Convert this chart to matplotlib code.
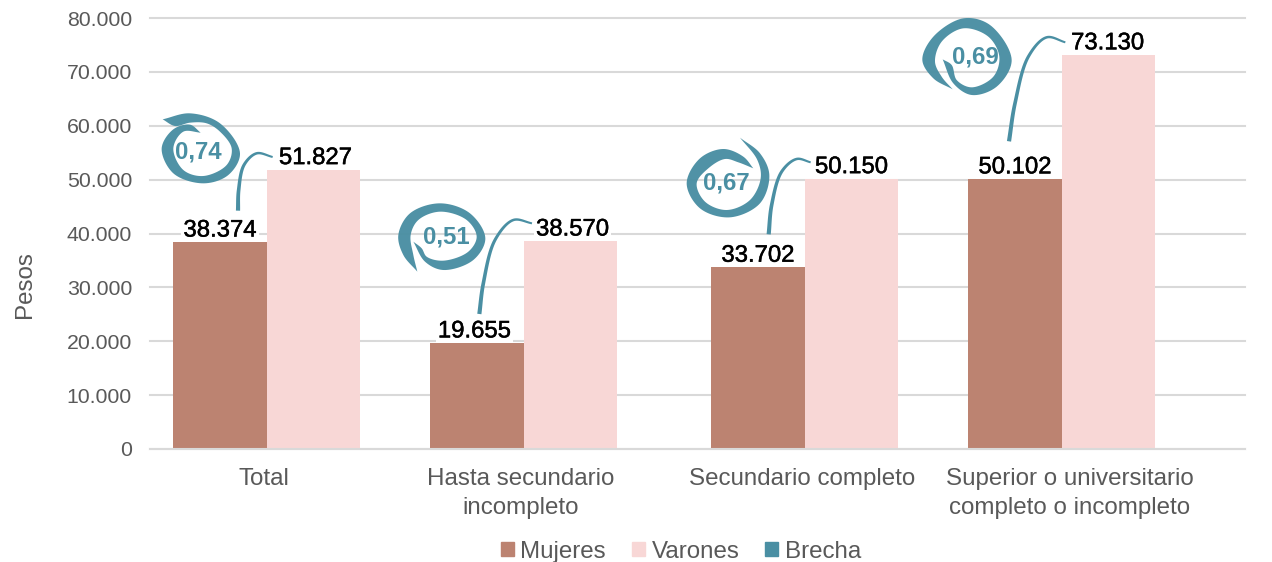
import numpy as np
import matplotlib
matplotlib.use("Agg")
import matplotlib.pyplot as plt
import matplotlib.patheffects as pe
from matplotlib.patches import Patch, Polygon
from matplotlib.transforms import Affine2D

# Data
categories = ["Total", "Hasta secundario\nincompleto", "Secundario completo",
              "Superior o universitario\ncompleto o incompleto"]
mujeres = [38374, 19655, 33702, 50102]
varones = [51827, 38570, 50150, 73130]
brecha = ["0,74", "0,51", "0,67", "0,69"]
yticks = list(range(0, 80001, 10000))

# Layout
W, H = 1272, 562
C_M, C_V, C_B = "#bc8371", "#f8d7d6", "#4a8fa3"
C_GRID, C_TXT = "#d9d9d9", "#595959"
FONT = "Liberation Sans"
group_pos = [0.002, 1.002, 2.095, 3.095]
tick_pos = [-0.01, 0.99, 2.083, 3.125]
bar_w_m = 0.366
bar_w_v = 0.362
dx_m = [0, -2.5, 0, 0]
dx_v = [2, 2, 0, -1]

plt.rcParams["font.family"] = FONT
fig = plt.figure(figsize=(W / 100, H / 100), dpi=100)
ax = fig.add_axes([150 / W, 1 - 449 / H, 1095 / W, 431 / H])
ax.set_xlim(-0.453, 3.807)
ax.set_ylim(0, 80000)
for s in ["top", "right", "left"]:
    ax.spines[s].set_visible(False)
ax.spines["bottom"].set_color(C_GRID)
ax.spines["bottom"].set_linewidth(1.5)
ax.yaxis.grid(True, color=C_GRID, lw=1.5, clip_on=False)
ax.set_axisbelow(True)
ax.tick_params(length=0)
ax.set_yticks(yticks)
ax.set_yticklabels([f"{v:,}".replace(",", ".") for v in yticks], fontsize=15.3, color=C_TXT)
ax.tick_params(axis="y", pad=13)
ax.set_xticks(tick_pos)
ax.set_xticklabels(categories, fontsize=17.4, color=C_TXT, linespacing=1.42)
ax.tick_params(axis="x", pad=13.5)
ax.set_ylabel("Pesos", fontsize=17.4, color=C_TXT)
ax.yaxis.set_label_coords((36 - 150) / 1095, (449 - 285) / 431)

x = np.array(group_pos)
b1 = ax.bar(x, mujeres, -bar_w_m, align="edge", color=C_M, zorder=2)
b2 = ax.bar(x, varones, bar_w_v, align="edge", color=C_V, zorder=2)
for bars, vals, dxs in ((b1, mujeres, dx_m), (b2, varones, dx_v)):
    for r, v, dx in zip(bars, vals, dxs):
        s = f"{v:,}".replace(",", ".")
        xy = (r.get_x() + r.get_width() / 2, v)
        off = (dx * 0.72, 0.5)
        # white backing sits under the bars, the text above them
        ax.annotate(s, xy, xytext=off, textcoords="offset points", ha="center", va="bottom",
                    fontsize=17.2, color="white", zorder=1.5,
                    bbox=dict(fc="white", ec="none", pad=1.5))
        ax.annotate(s, xy, xytext=off, textcoords="offset points", ha="center", va="bottom",
                    fontsize=17.2, color="black", zorder=3,
                    path_effects=[pe.withStroke(linewidth=0.35, foreground="black")])

ax.legend(handles=[Patch(color=C_M, label="Mujeres"), Patch(color=C_V, label="Varones"),
                   Patch(color=C_B, label="Brecha")],
          loc="center", bbox_to_anchor=(681 / W, 1 - 552 / H), bbox_transform=fig.transFigure,
          ncol=3, frameon=False, fontsize=17.4, labelcolor=C_TXT, handlelength=0.52, handleheight=0.52,
          handletextpad=0.28, columnspacing=1.08)

# Decorative swirls and connectors, in reference pixels
pix = Affine2D().scale(1, -1).translate(0, H)


def spline(pts, n=16, alpha=0.5):
    p = np.array(pts, float)
    p = np.vstack([2 * p[0] - p[1], p, 2 * p[-1] - p[-2]])
    out = []
    for i in range(1, len(p) - 2):
        p0, p1, p2, p3 = p[i - 1], p[i], p[i + 1], p[i + 2]
        t0 = 0.0
        t1 = t0 + np.linalg.norm(p1 - p0) ** alpha
        t2 = t1 + np.linalg.norm(p2 - p1) ** alpha
        t3 = t2 + np.linalg.norm(p3 - p2) ** alpha
        for t in np.linspace(t1, t2, n, endpoint=False):
            a1 = (t1 - t) / (t1 - t0) * p0 + (t - t0) / (t1 - t0) * p1
            a2 = (t2 - t) / (t2 - t1) * p1 + (t - t1) / (t2 - t1) * p2
            a3 = (t3 - t) / (t3 - t2) * p2 + (t - t2) / (t3 - t2) * p3
            b1_ = (t2 - t) / (t2 - t0) * a1 + (t - t0) / (t2 - t0) * a2
            b2_ = (t3 - t) / (t3 - t1) * a2 + (t - t1) / (t3 - t1) * a3
            out.append((t2 - t) / (t2 - t1) * b1_ + (t - t1) / (t2 - t1) * b2_)
    out.append(p[-2])
    return np.array(out)


def swirl(origin, outer, inner):
    o = np.array(origin, float)
    pts = np.vstack([spline(outer), spline([outer[-1]] + inner + [outer[0]])]) / 3 + o
    fig.add_artist(Polygon(pts, closed=True, fc=C_B, ec="none", alpha=0.97, transform=pix, zorder=5))


def connector(origin, center, w0=4.2, w1=2.0):
    c = spline(center) / 3 + np.array(origin, float)
    d = np.gradient(c, axis=0)
    nrm = np.column_stack([-d[:, 1], d[:, 0]]) / np.maximum(np.hypot(d[:, 0], d[:, 1]), 1e-6)[:, None]
    w = np.linspace(w0, w1, len(c))[:, None] / 2
    pts = np.vstack([c + nrm * w, (c - nrm * w)[::-1]])
    fig.add_artist(Polygon(pts, closed=True, fc=C_B, ec="none", transform=pix, zorder=5))


swirls = [
    ((140, 90),
     [(68, 88), (150, 70), (240, 100), (300, 190), (265, 255), (190, 280), (100, 250), (65, 175), (100, 118), (150, 104), (182, 128)],
     [(130, 125), (100, 175), (130, 240), (190, 258), (260, 225), (275, 175), (240, 125), (200, 100), (150, 98), (105, 108)],
     [(294, 362), (296, 300), (312, 225), (350, 190), (398, 201)], (198, 152)),
    ((380, 190),
     [(112, 245), (70, 195), (55, 135), (90, 70), (180, 40), (270, 70), (316, 145), (280, 210), (190, 240), (135, 215), (100, 155)],
     [(125, 175), (140, 200), (190, 212), (265, 185), (290, 140), (260, 90), (180, 65), (115, 90), (92, 135), (100, 195)],
     [(298, 372), (310, 280), (345, 150), (400, 90), (456, 100)], (446, 237)),
    ((670, 125),
     [(210, 38), (270, 85), (298, 150), (270, 235), (180, 277), (90, 250), (50, 175), (90, 100), (160, 72), (220, 95), (250, 130)],
     [(205, 112), (165, 102), (115, 130), (80, 175), (105, 230), (170, 255), (240, 225), (272, 160), (262, 105)],
     [(296, 328), (305, 240), (335, 140), (380, 102), (422, 112)], (726, 183)),
    ((900, 0),
     [(158, 268), (100, 235), (67, 180), (100, 110), (190, 55), (270, 75), (335, 180), (290, 260), (215, 285), (160, 250), (128, 178)],
     [(155, 195), (170, 240), (215, 262), (280, 230), (298, 170), (265, 110), (190, 85), (125, 125), (105, 185), (125, 230)],
     [(327, 424), (345, 310), (385, 170), (440, 112), (496, 127)], (975, 57)),
]
for label, (origin, outer, inner, conn, tp) in zip(brecha, swirls):
    swirl(origin, outer, inner)
    connector(origin, conn)
    fig.text(tp[0] / W, 1 - tp[1] / H, label, ha="center", va="center", fontsize=17.3,
             fontweight="bold", color=C_B, zorder=6)

fig.savefig("out.png", dpi=100)
